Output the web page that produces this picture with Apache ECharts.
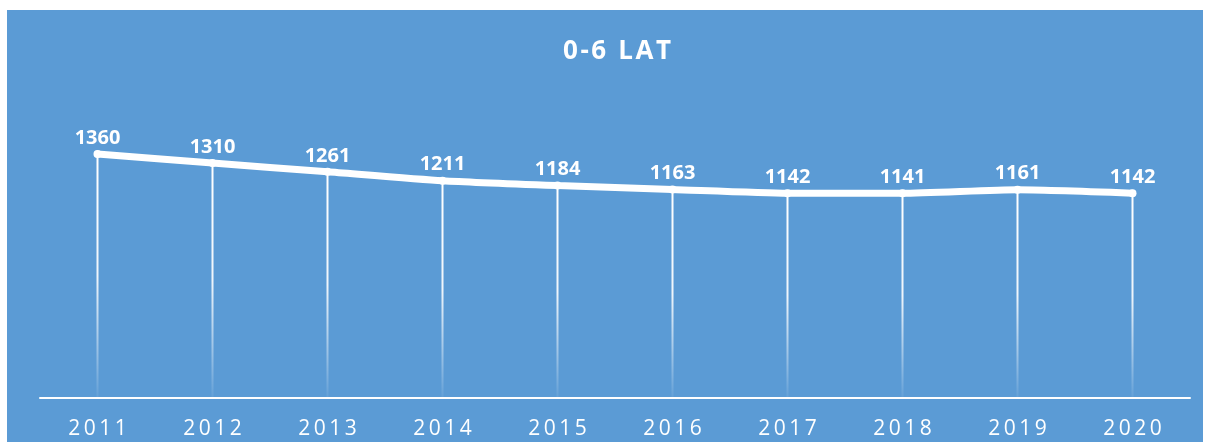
<!DOCTYPE html>
<html>
<head>
<meta charset="utf-8">
<script src="https://cdn.jsdelivr.net/npm/echarts@6/dist/echarts.min.js"></script>
<style>
    html, body { margin: 0; padding: 0; background: #ffffff; }
    #chart { width: 1205px; height: 442px; }
</style>
</head>
<body>
<div id="chart"></div>
<script>
'use strict';

// chart data
var years = ['2011', '2012', '2013', '2014', '2015', '2016', '2017', '2018', '2019', '2020'];
var children = [1360, 1310, 1261, 1211, 1184, 1163, 1142, 1141, 1161, 1142];
var title_text = '0-6 LAT';

(function (echarts) {

    var chart = echarts.init(document.getElementById('chart'), null, {renderer: 'canvas'});

    // spread letters a little like the original labels
    var spaced = function (value, gap) {
        return value.split('').join(gap || '\u2009');
    };

    chart.setOption({
        backgroundColor: '#ffffff',
        animation: false,
        graphic: [{
            type: 'rect',
            z: -10,
            shape: {x: 7, y: 10, width: 1196, height: 432},
            style: {fill: '#5B9BD5'}
        }],
        title: {
            text: spaced(title_text, '\u200A'),
            left: 612,
            textAlign: 'center',
            top: 34,
            textStyle: {
                color: '#ffffff',
                fontFamily: 'Open Sans',
                fontWeight: 'bold',
                fontSize: 26
            }
        },
        grid: {
            left: 40,
            right: 15,
            top: 111,
            bottom: 44
        },
        xAxis: {
            type: 'category',
            data: years,
            boundaryGap: true,
            axisLine: {lineStyle: {color: '#ffffff', width: 2}},
            axisTick: {show: false},
            axisLabel: {
                color: '#ffffff',
                fontFamily: 'Open Sans',
                fontSize: 21,
                margin: 21,
                formatter: function (value) {
                    return spaced(value);
                }
            }
        },
        yAxis: {
            type: 'value',
            min: 0,
            max: 1600,
            show: false,
            splitLine: {show: false}
        },
        series: [
            {
                // drop lines fading toward the axis
                type: 'bar',
                data: children,
                barWidth: 2,
                silent: true,
                itemStyle: {
                    color: new echarts.graphic.LinearGradient(0, 0, 0, 1, [
                        {offset: 0, color: 'rgba(255,255,255,1)'},
                        {offset: 0.5, color: 'rgba(255,255,255,0.9)'},
                        {offset: 1, color: 'rgba(255,255,255,0.05)'}
                    ])
                }
            },
            {
                type: 'line',
                data: children,
                smooth: 0.2,
                symbol: 'circle',
                symbolSize: 8,
                showSymbol: true,
                itemStyle: {color: '#ffffff'},
                lineStyle: {color: '#ffffff', width: 7, cap: 'round'},
                label: {
                    show: true,
                    position: 'top',
                    distance: 2,
                    color: '#ffffff',
                    fontFamily: 'Open Sans',
                    fontWeight: 'bold',
                    fontSize: 20
                },
                z: 5
            }
        ]
    });

})(echarts);
</script>
</body>
</html>
